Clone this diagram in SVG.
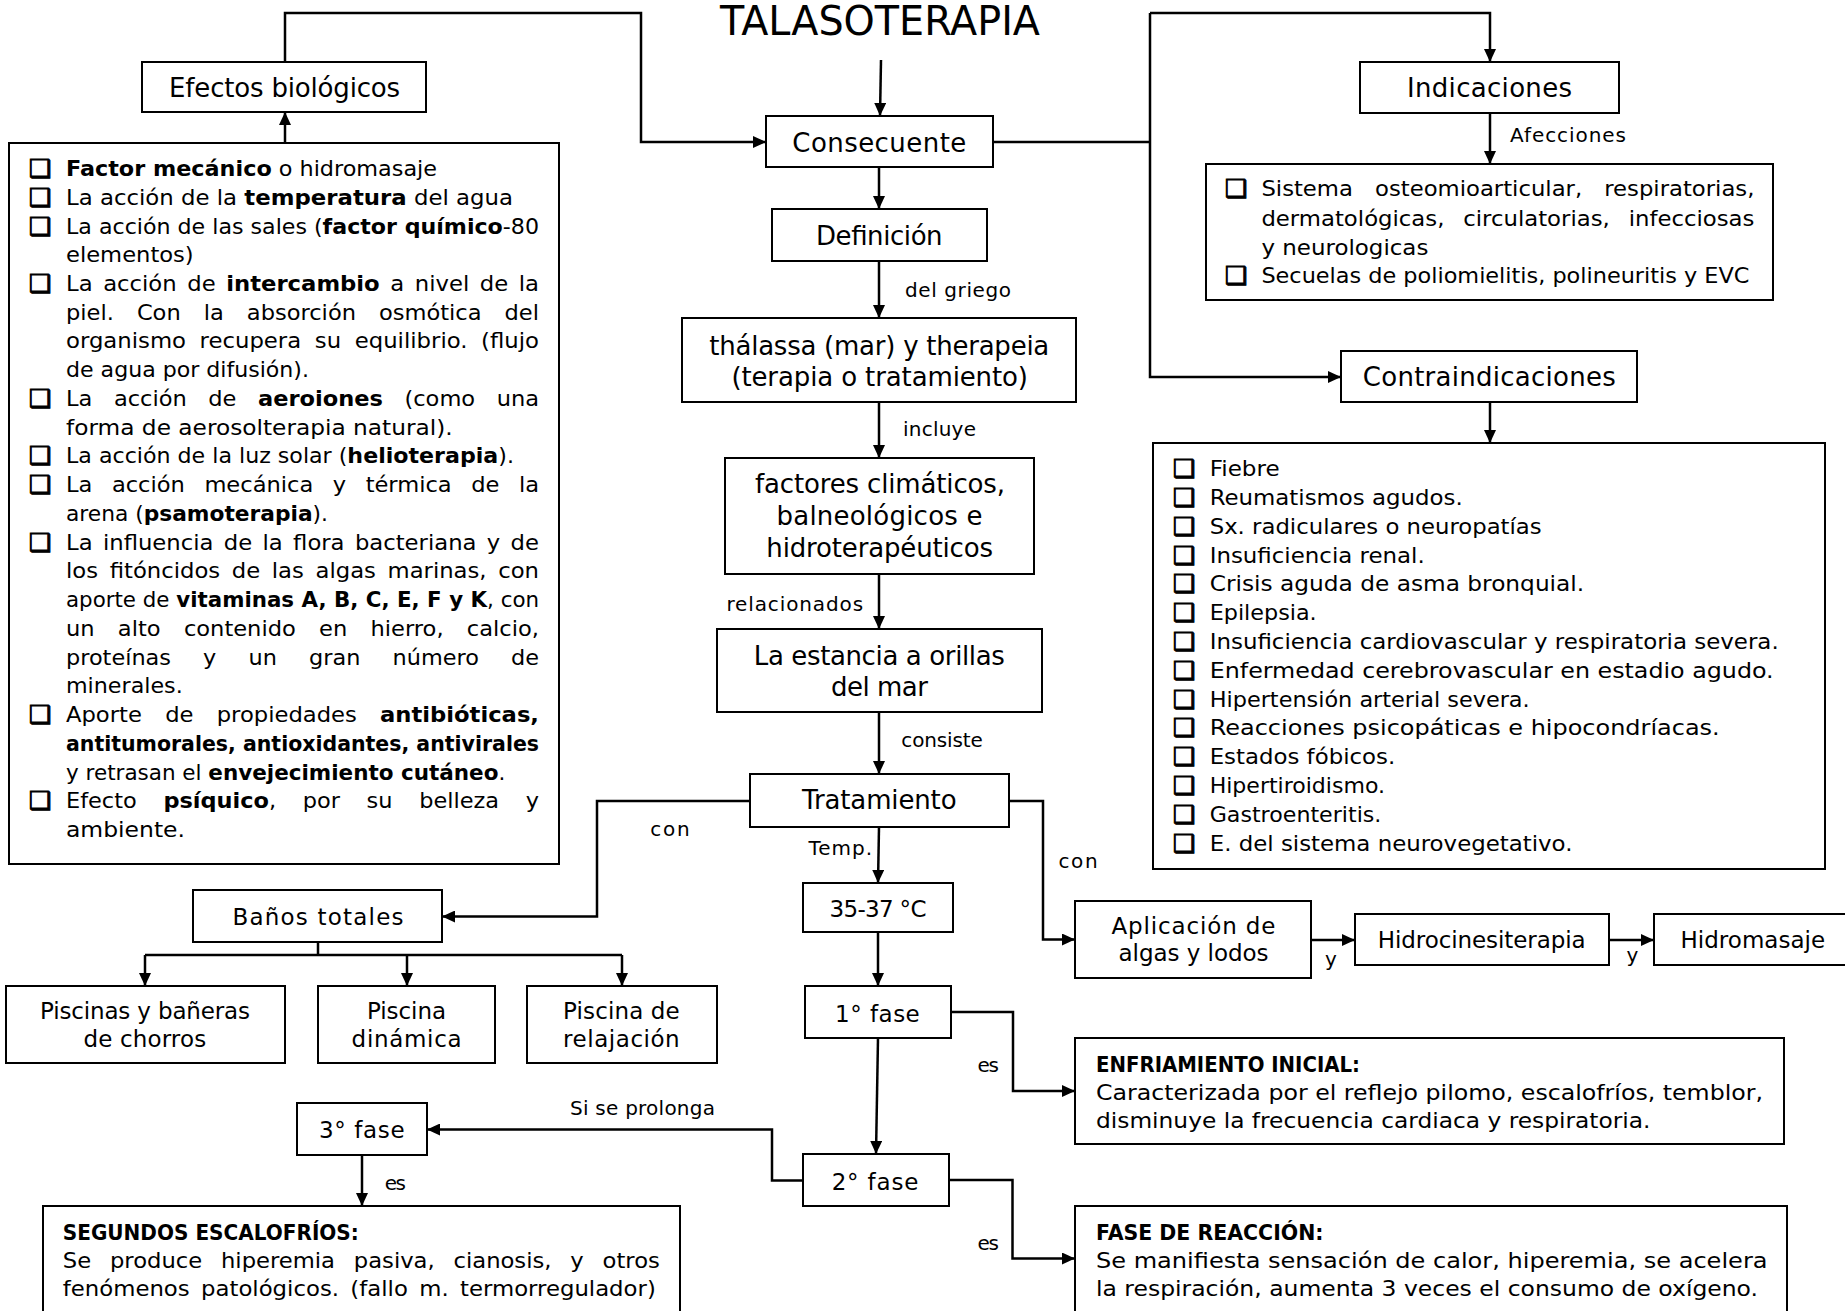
<svg xmlns="http://www.w3.org/2000/svg" width="1845" height="1311" viewBox="0 0 1845 1311">
<defs>
<marker id="arr" markerUnits="userSpaceOnUse" viewBox="0 0 13 12" refX="13" refY="6" markerWidth="13" markerHeight="12" orient="auto">
<path d="M0,0 L13,6 L0,12 z" fill="#000"/>
</marker>
</defs>
<style>
text{font-family:"DejaVu Sans",sans-serif;fill:#000}
.box{fill:#fff;stroke:#000;stroke-width:2}
.t26{font-size:26px;text-anchor:middle}
.t23{font-size:23px;text-anchor:middle}
.s{font-size:20px}
.l{font-size:21px}
.h{font-size:21px;font-weight:bold}
.b{font-weight:bold}
.bul{font-size:25px;stroke:#000;stroke-width:0.9}
#connectors path{fill:none;stroke:#000;stroke-width:2.5}
</style>
<rect x="0" y="0" width="1845" height="1311" fill="#fff"/>

<g id="title">
<text x="880" y="35" style="font-size:41px;text-anchor:middle" textLength="320" lengthAdjust="spacingAndGlyphs">TALASOTERAPIA</text>
</g>

<g id="connectors">
<path d="M285,62 V13 H641 V142 H766" marker-end="url(#arr)"/>
<path d="M285,143 V112" marker-end="url(#arr)"/>
<path d="M881,60 L880,116" marker-end="url(#arr)"/>
<path d="M879,167 V209" marker-end="url(#arr)"/>
<path d="M879,261 V318" marker-end="url(#arr)"/>
<path d="M879,402 V458" marker-end="url(#arr)"/>
<path d="M879,574 V629" marker-end="url(#arr)"/>
<path d="M879,712 V774" marker-end="url(#arr)"/>
<path d="M879,827 L878,883" marker-end="url(#arr)"/>
<path d="M878,932 V986" marker-end="url(#arr)"/>
<path d="M878,1038 L876,1154" marker-end="url(#arr)"/>
<path d="M750,801 H597 V916.5 H442" marker-end="url(#arr)"/>
<path d="M318,942 V955"/>
<path d="M145,955 H622"/>
<path d="M145,955 V986" marker-end="url(#arr)"/>
<path d="M407,955 V986" marker-end="url(#arr)"/>
<path d="M622,955 V986" marker-end="url(#arr)"/>
<path d="M1009,801 H1043 V939.5 H1075" marker-end="url(#arr)"/>
<path d="M1311,940 H1355" marker-end="url(#arr)"/>
<path d="M1609,940 H1654" marker-end="url(#arr)"/>
<path d="M951,1012 H1013 V1091 H1075" marker-end="url(#arr)"/>
<path d="M803,1180.5 H772 V1129.5 H427" marker-end="url(#arr)"/>
<path d="M362,1155 V1206" marker-end="url(#arr)"/>
<path d="M949,1180 H1012.5 V1258.5 H1075" marker-end="url(#arr)"/>
<path d="M993,142 H1150"/>
<path d="M1150,13 V377 H1341" marker-end="url(#arr)"/>
<path d="M1150,13 H1490 V62" marker-end="url(#arr)"/>
<path d="M1490,113 V164" marker-end="url(#arr)"/>
<path d="M1490,402 V443" marker-end="url(#arr)"/>
</g>

<g id="labels">
<text class="s" x="905" y="296.7" textLength="106">del griego</text>
<text class="s" x="903" y="436" textLength="73">incluye</text>
<text class="s" x="726.4" y="610.7" textLength="136.7">relacionados</text>
<text class="s" x="901.3" y="746.7" textLength="81.4">consiste</text>
<text class="s" x="650.3" y="836" textLength="39.3">con</text>
<text class="s" x="808.5" y="855" textLength="63.5">Temp.</text>
<text class="s" x="1058.4" y="868.3" textLength="39.3">con</text>
<text class="s" x="1325" y="966">y</text>
<text class="s" x="1626.5" y="962">y</text>
<text class="s" x="1510" y="142" textLength="116">Afecciones</text>
<text class="s" x="977.5" y="1071.7" textLength="21.5">es</text>
<text class="s" x="977.5" y="1250" textLength="21.5">es</text>
<text class="s" x="570" y="1115" textLength="145">Si se prolonga</text>
<text class="s" x="384.7" y="1190" textLength="21.3">es</text>
</g>

<g id="efectos-biologicos">
<rect class="box" x="142" y="62" width="284" height="50"/>
<text class="t26" x="284.6" y="96.5" textLength="231">Efectos biológicos</text>
</g>

<g id="efectos-lista">
<rect class="box" x="9" y="143" width="550" height="721"/>
<text class="bul" x="29" y="177">❑</text>
<text class="bul" x="29" y="205.7">❑</text>
<text class="bul" x="29" y="234.5">❑</text>
<text class="bul" x="29" y="292">❑</text>
<text class="bul" x="29" y="406.9">❑</text>
<text class="bul" x="29" y="464.4">❑</text>
<text class="bul" x="29" y="493.1">❑</text>
<text class="bul" x="29" y="550.6">❑</text>
<text class="bul" x="29" y="723.1">❑</text>
<text class="bul" x="29" y="809.3">❑</text>
<text class="l" x="66" y="176" textLength="371" lengthAdjust="spacingAndGlyphs"><tspan class="b">Factor mecánico</tspan> o hidromasaje</text>
<text class="l" x="66" y="204.7" textLength="447" lengthAdjust="spacingAndGlyphs">La acción de la <tspan class="b">temperatura</tspan> del agua</text>
<text class="l" x="66" y="233.5" textLength="473" lengthAdjust="spacingAndGlyphs">La acción de las sales (<tspan class="b">factor químico</tspan>-80</text>
<text class="l" x="66" y="262.2" textLength="127.7" lengthAdjust="spacingAndGlyphs">elementos)</text>
<text class="l" x="66" y="291" textLength="473" lengthAdjust="spacingAndGlyphs" style="word-spacing:3.1px">La acción de <tspan class="b">intercambio</tspan> a nivel de la</text>
<text class="l" x="66" y="319.7" textLength="473" lengthAdjust="spacingAndGlyphs" style="word-spacing:14.8px">piel. Con la absorción osmótica del</text>
<text class="l" x="66" y="348.4" textLength="473" lengthAdjust="spacingAndGlyphs" style="word-spacing:5.9px">organismo recupera su equilibrio. (flujo</text>
<text class="l" x="66" y="377.2" textLength="243" lengthAdjust="spacingAndGlyphs">de agua por difusión).</text>
<text class="l" x="66" y="405.9" textLength="473" lengthAdjust="spacingAndGlyphs" style="word-spacing:13.4px">La acción de <tspan class="b">aeroiones</tspan> (como una</text>
<text class="l" x="66" y="434.7" textLength="386.7" lengthAdjust="spacingAndGlyphs">forma de aerosolterapia natural).</text>
<text class="l" x="66" y="463.4" textLength="448" lengthAdjust="spacingAndGlyphs">La acción de la luz solar (<tspan class="b">helioterapia</tspan>).</text>
<text class="l" x="66" y="492.1" textLength="473" lengthAdjust="spacingAndGlyphs" style="word-spacing:11.5px">La acción mecánica y térmica de la</text>
<text class="l" x="66" y="520.9" textLength="262" lengthAdjust="spacingAndGlyphs">arena (<tspan class="b">psamoterapia</tspan>).</text>
<text class="l" x="66" y="549.6" textLength="473" lengthAdjust="spacingAndGlyphs" style="word-spacing:2.9px">La influencia de la flora bacteriana y de</text>
<text class="l" x="66" y="578.4" textLength="473" lengthAdjust="spacingAndGlyphs" style="word-spacing:4.1px">los fitóncidos de las algas marinas, con</text>
<text class="l" x="66" y="607.1" textLength="473" lengthAdjust="spacingAndGlyphs">aporte de <tspan class="b">vitaminas A, B, C, E, F y K</tspan>, con</text>
<text class="l" x="66" y="635.8" textLength="473" lengthAdjust="spacingAndGlyphs" style="word-spacing:15px">un alto contenido en hierro, calcio,</text>
<text class="l" x="66" y="664.6" textLength="473" lengthAdjust="spacingAndGlyphs" style="word-spacing:23.5px">proteínas y un gran número de</text>
<text class="l" x="66" y="693.3" textLength="116.7" lengthAdjust="spacingAndGlyphs">minerales.</text>
<text class="l" x="66" y="722.1" textLength="473" lengthAdjust="spacingAndGlyphs" style="word-spacing:14.9px">Aporte de propiedades <tspan class="b">antibióticas,</tspan></text>
<text class="l" x="66" y="750.8" textLength="473" lengthAdjust="spacingAndGlyphs"><tspan class="b">antitumorales, antioxidantes, antivirales</tspan></text>
<text class="l" x="66" y="779.5" textLength="439.3" lengthAdjust="spacingAndGlyphs">y retrasan el <tspan class="b">envejecimiento cutáneo</tspan>.</text>
<text class="l" x="66" y="808.3" textLength="473" lengthAdjust="spacingAndGlyphs" style="word-spacing:18.3px">Efecto <tspan class="b">psíquico</tspan>, por su belleza y</text>
<text class="l" x="66" y="837" textLength="119" lengthAdjust="spacingAndGlyphs">ambiente.</text>
</g>

<g id="consecuente">
<rect class="box" x="766" y="116" width="227" height="51"/>
<text class="t26" x="879.3" y="151.5" textLength="174">Consecuente</text>
</g>

<g id="definicion">
<rect class="box" x="772" y="209" width="215" height="52"/>
<text class="t26" x="879.3" y="245" textLength="126.6">Definición</text>
</g>

<g id="thalassa">
<rect class="box" x="682" y="318" width="394" height="84"/>
<text class="t26" x="879.3" y="355" textLength="340">thálassa (mar) y therapeia</text>
<text class="t26" x="879.7" y="385.5" textLength="296.6">(terapia o tratamiento)</text>
</g>

<g id="factores">
<rect class="box" x="725" y="458" width="309" height="116"/>
<text class="t26" x="880" y="493.3" textLength="250">factores climáticos,</text>
<text class="t26" x="879.5" y="525" textLength="206">balneológicos e</text>
<text class="t26" x="879.7" y="556.7" textLength="226.7">hidroterapéuticos</text>
</g>

<g id="estancia">
<rect class="box" x="717" y="629" width="325" height="83"/>
<text class="t26" x="879.3" y="665" textLength="251">La estancia a orillas</text>
<text class="t26" x="879.5" y="695.5" textLength="97">del mar</text>
</g>

<g id="tratamiento">
<rect class="box" x="750" y="774" width="259" height="53"/>
<text class="t26" x="879.3" y="809.3" textLength="154.6">Tratamiento</text>
</g>

<g id="temperatura">
<rect class="box" x="803" y="883" width="150" height="49"/>
<text class="t23" x="878" y="916.5" textLength="97">35-37 °C</text>
</g>

<g id="fase1">
<rect class="box" x="805" y="986" width="146" height="52"/>
<text class="t23" x="877.4" y="1021.5" textLength="84.7">1° fase</text>
</g>

<g id="fase2">
<rect class="box" x="803" y="1154" width="146" height="52"/>
<text class="t23" x="875" y="1190" textLength="86.7">2° fase</text>
</g>

<g id="fase3">
<rect class="box" x="297" y="1103" width="130" height="52"/>
<text class="t23" x="361.8" y="1138" textLength="85.5">3° fase</text>
</g>

<g id="banos-totales">
<rect class="box" x="193" y="890" width="249" height="52"/>
<text class="t23" x="318" y="925" textLength="171">Baños totales</text>
</g>

<g id="piscinas-chorros">
<rect class="box" x="6" y="986" width="279" height="77"/>
<text class="t23" x="145" y="1019.3" textLength="210">Piscinas y bañeras</text>
<text class="t23" x="144.8" y="1047.3" textLength="122.7">de chorros</text>
</g>

<g id="piscina-dinamica">
<rect class="box" x="318" y="986" width="177" height="77"/>
<text class="t23" x="406.5" y="1019.3" textLength="79">Piscina</text>
<text class="t23" x="406.6" y="1047.3" textLength="110">dinámica</text>
</g>

<g id="piscina-relajacion">
<rect class="box" x="527" y="986" width="190" height="77"/>
<text class="t23" x="621.4" y="1019.3" textLength="116.6">Piscina de</text>
<text class="t23" x="621.4" y="1047.3" textLength="116.6">relajación</text>
</g>

<g id="segundos-escalofrios">
<rect class="box" x="43" y="1206" width="637" height="120"/>
<text class="h" x="62.8" y="1240" textLength="296" lengthAdjust="spacingAndGlyphs">SEGUNDOS ESCALOFRÍOS:</text>
<text class="l" x="62.8" y="1267.5" textLength="597" lengthAdjust="spacingAndGlyphs" style="word-spacing:10.8px">Se produce hiperemia pasiva, cianosis, y otros</text>
<text class="l" x="62.8" y="1296" textLength="593" lengthAdjust="spacingAndGlyphs" style="word-spacing:3.8px">fenómenos patológicos. (fallo m. termorregulador)</text>
</g>

<g id="aplicacion">
<rect class="box" x="1075" y="901" width="236" height="77"/>
<text class="t23" x="1193.5" y="934" textLength="164">Aplicación de</text>
<text class="t23" x="1193.5" y="961" textLength="150">algas y lodos</text>
</g>

<g id="hidrocinesiterapia">
<rect class="box" x="1355" y="914" width="254" height="51"/>
<text class="t23" x="1481.7" y="948.3" textLength="208">Hidrocinesiterapia</text>
</g>

<g id="hidromasaje">
<rect class="box" x="1654" y="914" width="200" height="51"/>
<text class="t23" x="1752.8" y="948" textLength="144.5">Hidromasaje</text>
</g>

<g id="enfriamiento">
<rect class="box" x="1075" y="1038" width="709" height="106"/>
<text class="h" x="1096" y="1071.5" textLength="264" lengthAdjust="spacingAndGlyphs">ENFRIAMIENTO INICIAL:</text>
<text class="l" x="1096" y="1100" textLength="667" lengthAdjust="spacingAndGlyphs">Caracterizada por el reflejo pilomo, escalofríos, temblor,</text>
<text class="l" x="1096" y="1128.3" textLength="554.5" lengthAdjust="spacingAndGlyphs">disminuye la frecuencia cardiaca y respiratoria.</text>
</g>

<g id="fase-reaccion">
<rect class="box" x="1075" y="1206" width="712" height="120"/>
<text class="h" x="1096" y="1240" textLength="227.5" lengthAdjust="spacingAndGlyphs">FASE DE REACCIÓN:</text>
<text class="l" x="1096" y="1267.5" textLength="671.5" lengthAdjust="spacingAndGlyphs">Se manifiesta sensación de calor, hiperemia, se acelera</text>
<text class="l" x="1096" y="1296" textLength="662" lengthAdjust="spacingAndGlyphs">la respiración, aumenta 3 veces el consumo de oxígeno.</text>
</g>

<g id="indicaciones">
<rect class="box" x="1360" y="62" width="259" height="51"/>
<text class="t26" x="1489.5" y="97" textLength="165">Indicaciones</text>
</g>

<g id="indicaciones-lista">
<rect class="box" x="1206" y="164" width="567" height="136"/>
<text class="bul" x="1225" y="197">❑</text>
<text class="bul" x="1225" y="284">❑</text>
<text class="l" x="1261.4" y="196" textLength="493" lengthAdjust="spacingAndGlyphs" style="word-spacing:13.8px">Sistema osteomioarticular, respiratorias,</text>
<text class="l" x="1261.4" y="225.5" textLength="493" lengthAdjust="spacingAndGlyphs" style="word-spacing:10.7px">dermatológicas, circulatorias, infecciosas</text>
<text class="l" x="1261.4" y="254.5" textLength="167" lengthAdjust="spacingAndGlyphs">y neurologicas</text>
<text class="l" x="1261.4" y="283" textLength="488" lengthAdjust="spacingAndGlyphs">Secuelas de poliomielitis, polineuritis y EVC</text>
</g>

<g id="contraindicaciones">
<rect class="box" x="1341" y="351" width="296" height="51"/>
<text class="t26" x="1489.3" y="386" textLength="253">Contraindicaciones</text>
</g>

<g id="contraindicaciones-lista">
<rect class="box" x="1153" y="443" width="672" height="426"/>
<text class="bul" x="1173" y="477">❑</text>
<text class="bul" x="1173" y="505.8">❑</text>
<text class="bul" x="1173" y="534.6">❑</text>
<text class="bul" x="1173" y="563.5">❑</text>
<text class="bul" x="1173" y="592.3">❑</text>
<text class="bul" x="1173" y="621.1">❑</text>
<text class="bul" x="1173" y="649.9">❑</text>
<text class="bul" x="1173" y="678.7">❑</text>
<text class="bul" x="1173" y="707.6">❑</text>
<text class="bul" x="1173" y="736.4">❑</text>
<text class="bul" x="1173" y="765.2">❑</text>
<text class="bul" x="1173" y="794">❑</text>
<text class="bul" x="1173" y="822.8">❑</text>
<text class="bul" x="1173" y="851.7">❑</text>
<text class="l" x="1209.7" y="476" textLength="70" lengthAdjust="spacingAndGlyphs">Fiebre</text>
<text class="l" x="1209.7" y="504.8" textLength="253" lengthAdjust="spacingAndGlyphs">Reumatismos agudos.</text>
<text class="l" x="1209.7" y="533.6" textLength="332" lengthAdjust="spacingAndGlyphs">Sx. radiculares o neuropatías</text>
<text class="l" x="1209.7" y="562.5" textLength="215" lengthAdjust="spacingAndGlyphs">Insuficiencia renal.</text>
<text class="l" x="1209.7" y="591.3" textLength="374.5" lengthAdjust="spacingAndGlyphs">Crisis aguda de asma bronquial.</text>
<text class="l" x="1209.7" y="620.1" textLength="107" lengthAdjust="spacingAndGlyphs">Epilepsia.</text>
<text class="l" x="1209.7" y="648.9" textLength="569" lengthAdjust="spacingAndGlyphs">Insuficiencia cardiovascular y respiratoria severa.</text>
<text class="l" x="1209.7" y="677.7" textLength="564" lengthAdjust="spacingAndGlyphs">Enfermedad cerebrovascular en estadio agudo.</text>
<text class="l" x="1209.7" y="706.6" textLength="320" lengthAdjust="spacingAndGlyphs">Hipertensión arterial severa.</text>
<text class="l" x="1209.7" y="735.4" textLength="510" lengthAdjust="spacingAndGlyphs">Reacciones psicopáticas e hipocondríacas.</text>
<text class="l" x="1209.7" y="764.2" textLength="185.5" lengthAdjust="spacingAndGlyphs">Estados fóbicos.</text>
<text class="l" x="1209.7" y="793" textLength="175.3" lengthAdjust="spacingAndGlyphs">Hipertiroidismo.</text>
<text class="l" x="1209.7" y="821.8" textLength="171.7" lengthAdjust="spacingAndGlyphs">Gastroenteritis.</text>
<text class="l" x="1209.7" y="850.7" textLength="362.8" lengthAdjust="spacingAndGlyphs">E. del sistema neurovegetativo.</text>
</g>
</svg>
